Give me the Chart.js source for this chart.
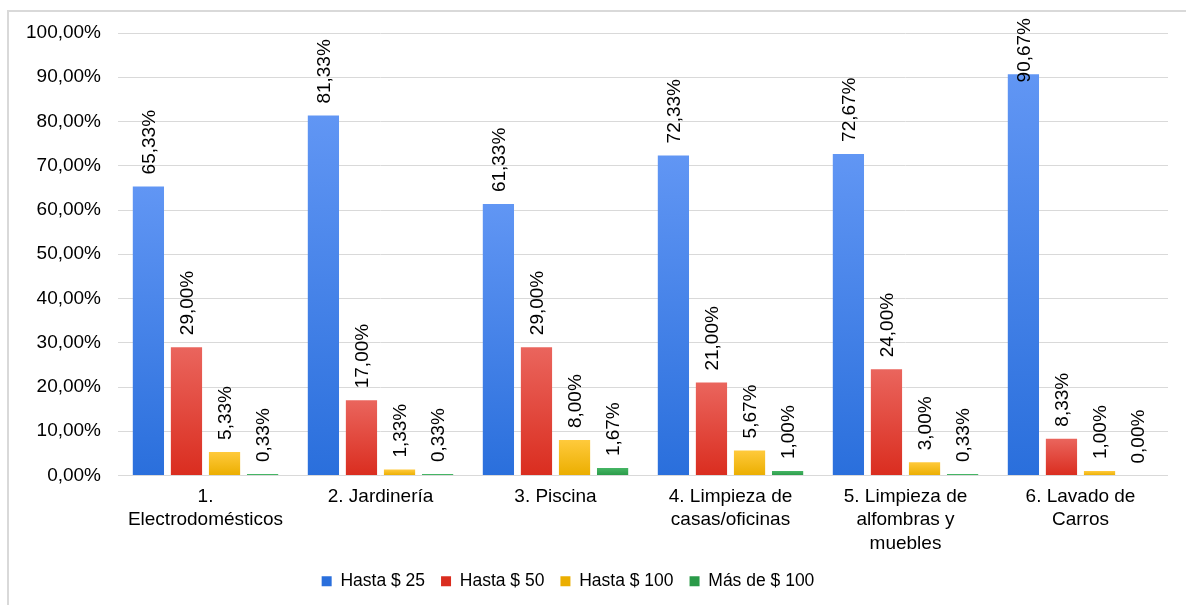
<!DOCTYPE html>
<html>
<head>
<meta charset="utf-8">
<script src="https://cdn.jsdelivr.net/npm/chart.js@4.4.1/dist/chart.umd.min.js"></script>
<style>
  html, body { margin: 0; padding: 0; background: #fff; overflow: hidden; }
  #wrap { position: relative; width: 1186px; height: 605px; }
  #frame { position: absolute; left: 7px; top: 10px; right: -5px; bottom: -5px;
           border-left: 2px solid #d9d9d9; border-top: 2px solid #d9d9d9; pointer-events: none; }
  canvas { position: absolute; left: 0; top: 0; }
</style>
</head>
<body>
<div id="wrap">
  <canvas id="chart" width="1186" height="605"></canvas>
  <div id="frame"></div>
</div>
<script>
// ── 데이터 ──
const categories = [
  ['1.', 'Electrodomésticos'],
  ['2. Jardinería'],
  ['3. Piscina'],
  ['4. Limpieza de', 'casas/oficinas'],
  ['5. Limpieza de', 'alfombras y', 'muebles'],
  ['6. Lavado de', 'Carros']
];
const seriesNames = ['Hasta $ 25', 'Hasta $ 50', 'Hasta $ 100', 'Más de $ 100'];
const hasta25  = [65.33, 81.33, 61.33, 72.33, 72.67, 90.67];
const hasta50  = [29.00, 17.00, 29.00, 21.00, 24.00, 8.33];
const hasta100 = [5.33, 1.33, 8.00, 5.67, 3.00, 1.00];
const masDe100 = [0.33, 0.33, 1.67, 1.00, 0.33, 0.00];
const yTicks = [0, 10, 20, 30, 40, 50, 60, 70, 80, 90, 100];

// colores (arriba, abajo)
const palette = [
  ['#6196f4', '#2a6fdc'],
  ['#ea655d', '#da2d1f'],
  ['#ffca3c', '#ebae00'],
  ['#45b564', '#2a9a48']
];

const fmt = (v) => v.toFixed(2).replace('.', ',') + '%';

function barGradient(idx) {
  return function (ctx) {
    const chart = ctx.chart;
    const y = chart.scales.y;
    if (!y || ctx.raw == null) return palette[idx][0];
    const top = y.getPixelForValue(ctx.raw);
    const bottom = y.getPixelForValue(0);
    if (!isFinite(top) || !isFinite(bottom) || bottom - top < 2) return palette[idx][0];
    const g = chart.ctx.createLinearGradient(0, top, 0, bottom);
    g.addColorStop(0, palette[idx][0]);
    g.addColorStop(1, palette[idx][1]);
    return g;
  };
}

// etiquetas de datos giradas
const dataLabels = {
  id: 'dataLabels',
  afterDatasetsDraw(chart) {
    const c = chart.ctx;
    const area = chart.chartArea;
    c.save();
    c.font = '19px "Liberation Sans", Arial, sans-serif';
    c.fillStyle = '#000';
    c.textAlign = 'left';
    c.textBaseline = 'middle';
    chart.data.datasets.forEach((ds, di) => {
      const meta = chart.getDatasetMeta(di);
      meta.data.forEach((bar, i) => {
        const txt = fmt(ds.data[i]);
        const w = c.measureText(txt).width;
        let start = bar.y - 12;
        const minTop = area.top - 15;
        if (start - w < minTop) start = minTop + w;
        c.save();
        c.translate(bar.x + 1, start);
        c.rotate(-Math.PI / 2);
        c.fillText(txt, 0, 0);
        c.restore();
      });
    });
    c.restore();
  }
};

const legendShift = {
  id: 'legendShift',
  afterLayout(chart) {
    chart.legend.left -= 16;
    chart.legend.right -= 16;
  }
};

Chart.defaults.font.family = '"Liberation Sans", Arial, sans-serif';
Chart.defaults.font.size = 19;
Chart.defaults.color = '#000';

new Chart(document.getElementById('chart'), {
  type: 'bar',
  data: {
    labels: categories,
    datasets: [hasta25, hasta50, hasta100, masDe100].map((d, i) => ({
      label: seriesNames[i],
      data: d,
      backgroundColor: barGradient(i),
      borderWidth: 0,
      categoryPercentage: 0.87,
      barPercentage: 0.82
    }))
  },
  options: {
    responsive: false,
    animation: false,
    layout: { padding: { top: 33, right: 18, left: 0, bottom: 5 } },
    plugins: {
      tooltip: { enabled: false },
      legend: {
        position: 'bottom',
        labels: {
          boxWidth: 10,
          boxHeight: 10,
          padding: 16,
          font: { size: 17.5 },
          generateLabels(chart) {
            return chart.data.datasets.map((ds, i) => ({
              text: ds.label,
              fillStyle: palette[i][1],
              strokeStyle: palette[i][1],
              lineWidth: 0,
              datasetIndex: i
            }));
          }
        }
      }
    },
    scales: {
      x: {
        grid: { display: false, drawTicks: false },
        border: { display: false },
        ticks: { autoSkip: false, maxRotation: 0, minRotation: 0, padding: 9,
                 font: { size: 19, lineHeight: 1.25 } },
        afterFit(scale) { scale.height = 81; }
      },
      y: {
        min: 0,
        max: 100,
        afterBuildTicks(scale) { scale.ticks = yTicks.map(v => ({ value: v })); },
        grid: { color: '#d9d9d9', lineWidth: 1, drawTicks: false },
        border: { display: false },
        ticks: { padding: 17, callback: (v) => fmt(v) },
        afterFit(scale) { scale.width = 118; }
      }
    }
  },
  plugins: [dataLabels, legendShift]
});
</script>
</body>
</html>
